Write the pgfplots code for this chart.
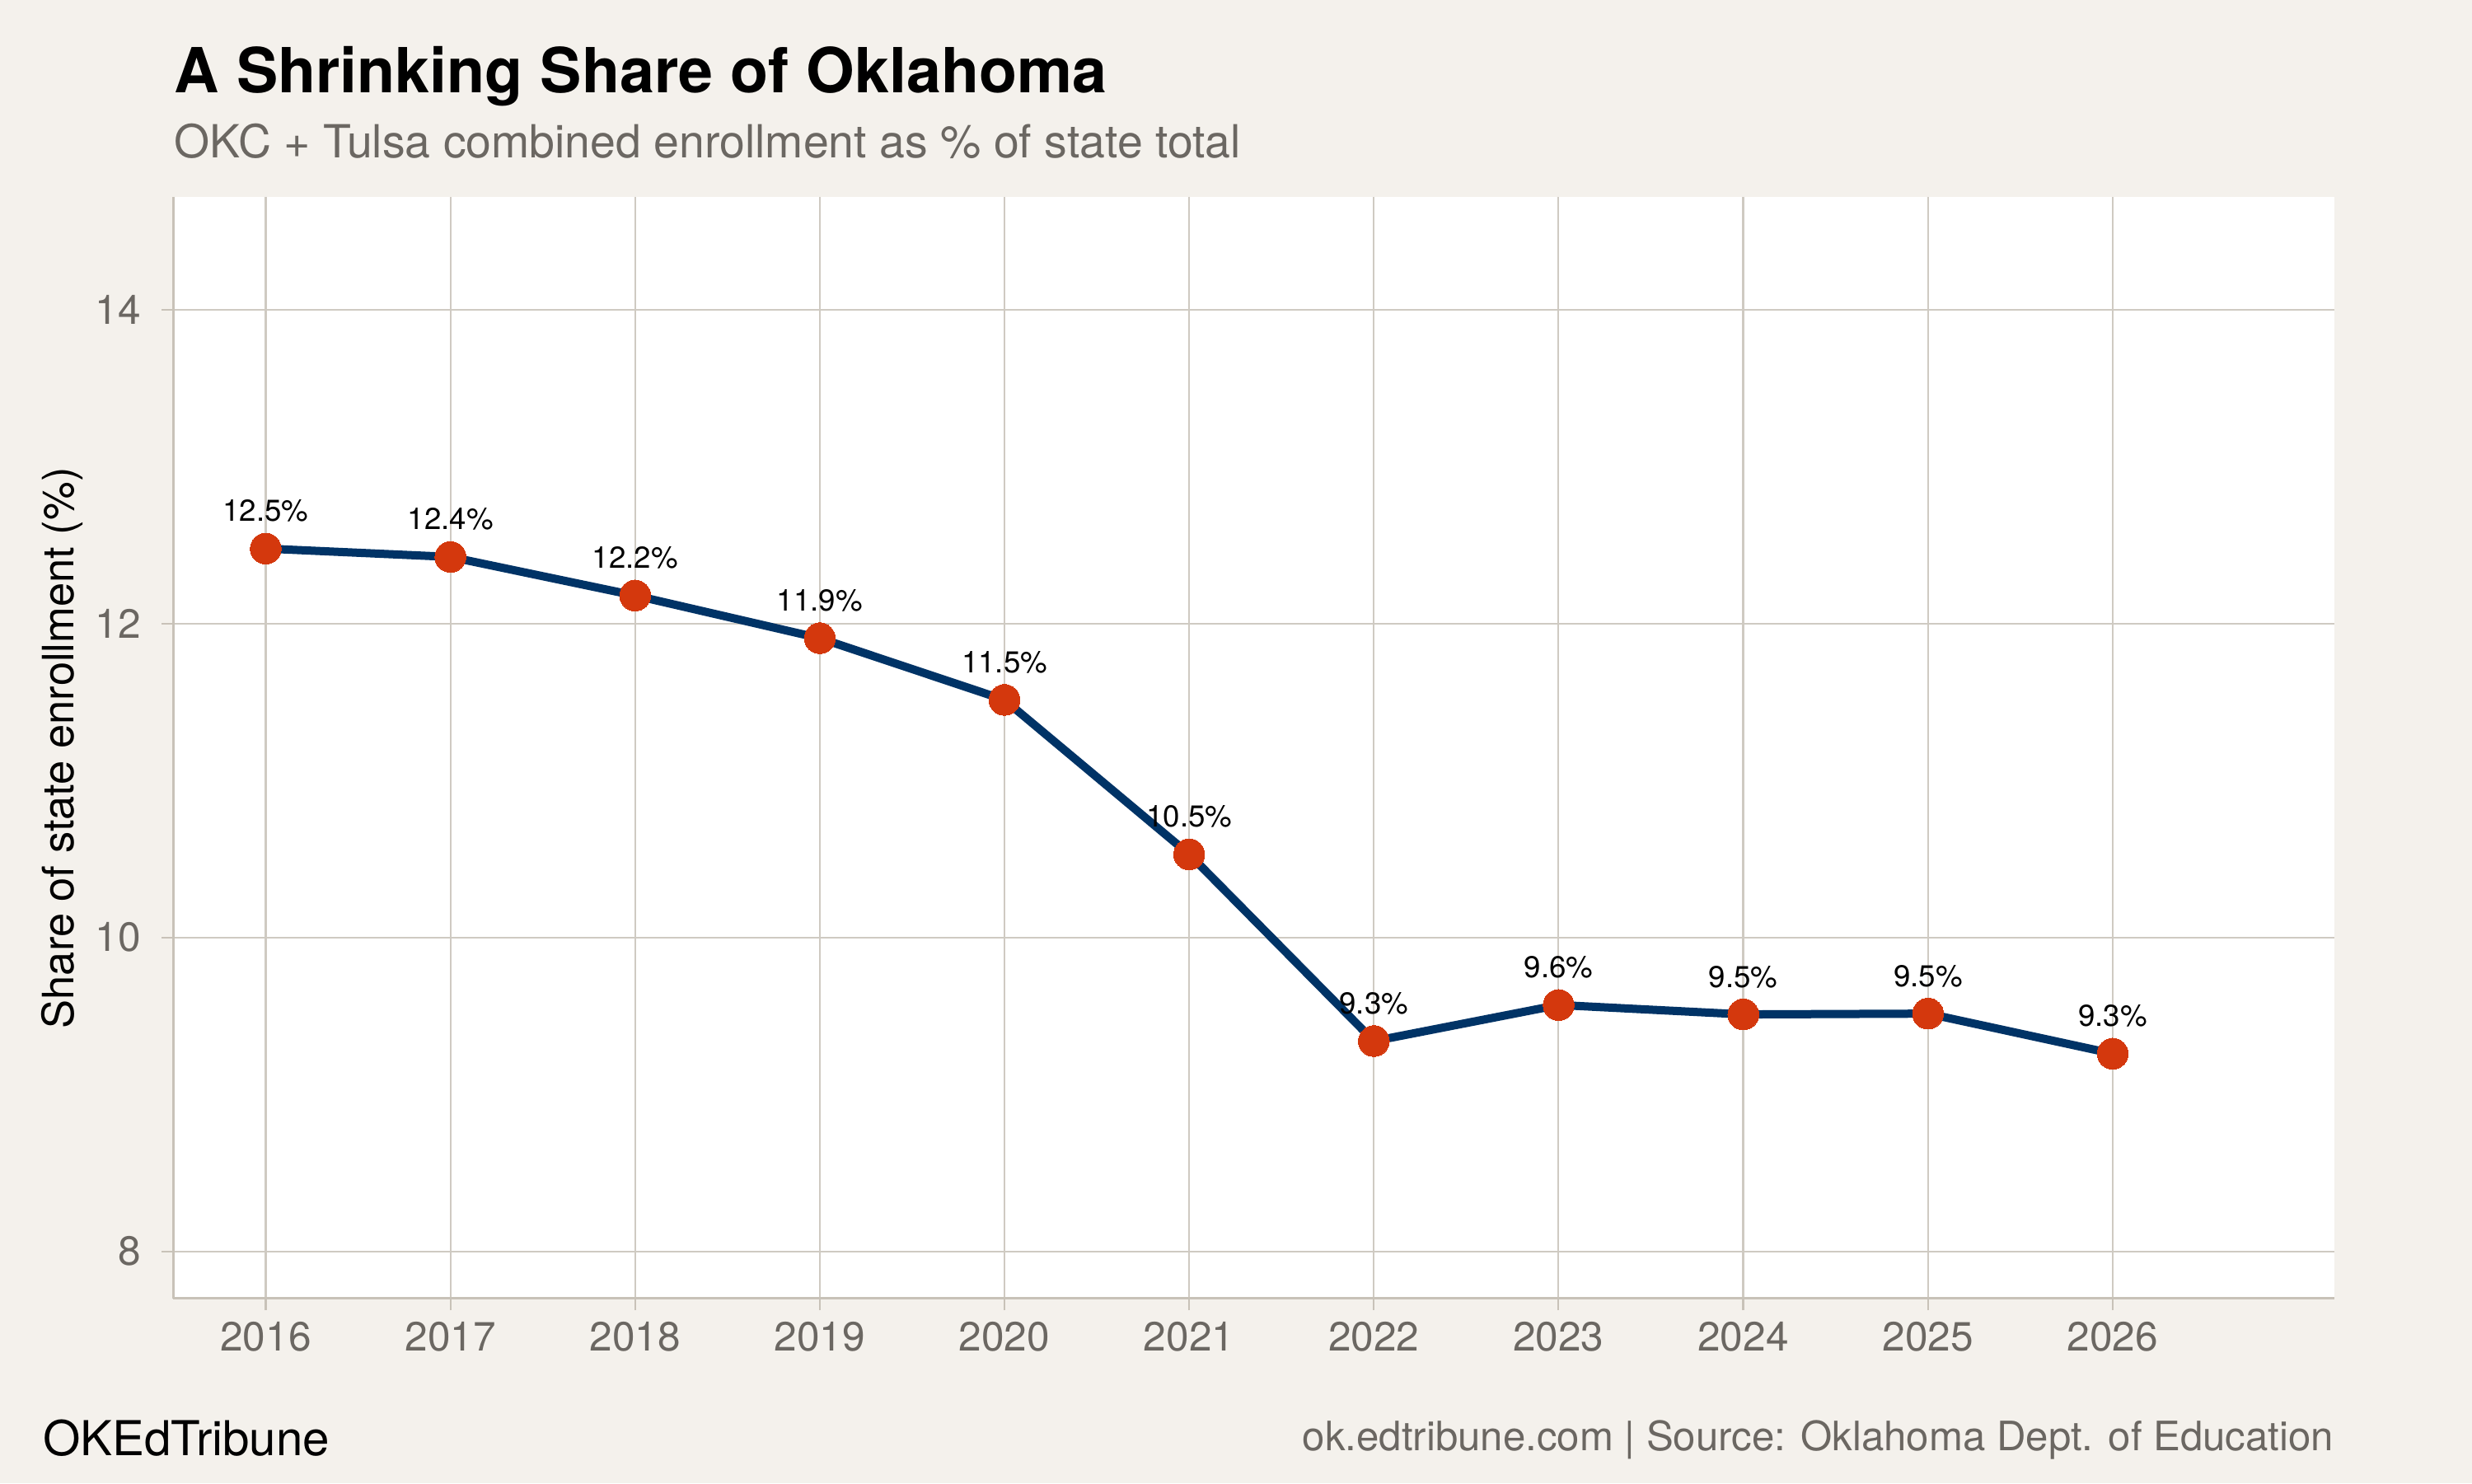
\documentclass[border=0pt]{standalone}
\usepackage{fontspec}
\setmainfont{TeX Gyre Heros}
\usepackage{pgfplots}
\pgfplotsset{compat=1.18}

\definecolor{bgcol}{HTML}{F4F1EC}
\definecolor{gridcol}{HTML}{CFCAC2}
\definecolor{axcol}{HTML}{C8C2B8}
\definecolor{navy}{HTML}{003366}
\definecolor{dotcol}{HTML}{D4380D}
\definecolor{txtgray}{HTML}{6B6762}

\begin{document}
\begin{tikzpicture}
\path[use as bounding box, fill=bgcol] (0,0) rectangle (720pt,432pt);

\begin{axis}[
    at={(50.5pt,53.8pt)}, anchor=south west,
    scale only axis,
    width=629.4pt, height=320.9pt,
    xmin=2015.5, xmax=2027.2,
    ymin=7.70, ymax=14.72,
    xtick={2016,...,2026},
    ytick={8,10,12,14},
    xticklabel style={/pgf/number format/1000 sep={}},
    yticklabel style={xshift=-2.6pt},
    /pgf/number format/assume math mode=true,
    tick label style={font=\fontsize{11.9}{14}\selectfont, text=txtgray},
    axis background/.style={fill=white},
    axis lines*=left,
    axis line style={axcol, line width=0.65pt},
    grid=major,
    major grid style={gridcol, line width=0.5pt},
    tick align=outside,
    major tick length=3.4pt,
    tick style={axcol, line width=0.5pt},
    clip=false,
]
\addplot[navy, line width=2.4pt,
    mark=*, mark size=4.5pt,
    mark options={fill=dotcol, draw=dotcol, line width=0pt},
    nodes near coords,
    point meta=explicit symbolic,
    every node near coord/.append style={anchor=base, yshift=7.9pt,
        inner sep=0pt, font=\fontsize{8.8}{10}\selectfont, text=black},
] table[meta=lab] {
x y lab
2016 12.478 12.5\%
2017 12.425 12.4\%
2018 12.179 12.2\%
2019 11.907 11.9\%
2020 11.514 11.5\%
2021 10.530 10.5\%
2022 9.340 9.3\%
2023 9.570 9.6\%
2024 9.510 9.5\%
2025 9.515 9.5\%
2026 9.260 9.3\%
};
\end{axis}

\node[anchor=base, rotate=90, inner sep=0pt, font=\fontsize{12.6}{15}\selectfont]
    at (21.4pt,214.1pt) {Share of state enrollment (\%)};
\node[anchor=base west, inner sep=0pt, font=\fontsize{18.1}{21}\selectfont\bfseries]
    at (50.6pt,405.1pt) {A Shrinking Share of Oklahoma};
\node[anchor=base west, inner sep=0pt, font=\fontsize{13.3}{16}\selectfont, text=txtgray]
    at (50.6pt,386pt) {OKC + Tulsa combined enrollment as \% of state total};
\node[anchor=base west, inner sep=0pt, font=\fontsize{14}{16}\selectfont]
    at (12.3pt,8pt) {OKEdTribune};
\node[anchor=base east, inner sep=0pt, font=\fontsize{11.8}{14}\selectfont, text=txtgray]
    at (679.9pt,9.4pt) {ok.edtribune.com | Source: Oklahoma Dept. of Education};
\end{tikzpicture}
\end{document}
